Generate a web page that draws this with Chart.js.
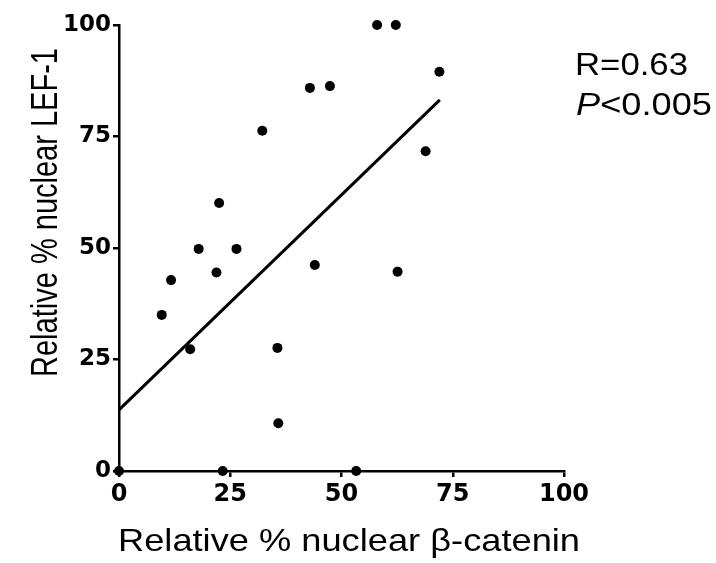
<!DOCTYPE html>
<html>
<head>
<meta charset="utf-8">
<script src="https://cdn.jsdelivr.net/npm/chart.js@4/dist/chart.umd.min.js"></script>
<style>
  html, body { margin: 0; padding: 0; background: #fff; }
  #wrap { width: 716px; height: 563px; }
</style>
</head>
<body>
<div id="wrap"><canvas id="c" width="716" height="563"></canvas></div>
<script>
// ---- data ----
const betaCatenin = [58.0, 62.2, 72.0, 47.4, 42.9, 32.2, 22.5, 68.9, 17.9, 26.4, 44.0, 11.7, 21.9, 9.6, 16.0, 35.6, 35.8, 0, 23.3, 53.3, 62.6];
const lef1        = [100, 100, 89.5, 86.3, 85.9, 76.3, 60.1, 71.7, 49.8, 49.8, 46.2, 42.8, 44.5, 35.0, 27.3, 27.6, 10.7, 0, 0, 0, 44.7];
const fitX = [0, 72.1];
const fitY = [13.7, 83.2];
const tickValues = [0, 25, 50, 75, 100];
const xTitle = 'Relative % nuclear β-catenin';
const yTitle = 'Relative % nuclear LEF-1';
const statR = 'R=0.63';
const statPLetter = 'P';
const statPRest = '<0.005';

const points = betaCatenin.map((x, i) => ({ x: x, y: lef1[i] }));
const fitLine = fitX.map((x, i) => ({ x: x, y: fitY[i] }));

function drawFit(ctx, text, x, y, width, font) {
  ctx.save();
  ctx.font = font;
  const w = ctx.measureText(text).width;
  ctx.translate(x, y);
  ctx.scale(width / w, 1);
  ctx.textAlign = 'left';
  ctx.textBaseline = 'alphabetic';
  ctx.fillText(text, 0, 0);
  ctx.restore();
}

const textPlugin = {
  id: 'texts',
  afterDraw(chart) {
    const ctx = chart.ctx;
    ctx.save();
    ctx.fillStyle = '#000';
    // x axis title
    drawFit(ctx, xTitle, 118, 551, 462, '32px "Liberation Sans", Arial, sans-serif');
    // y axis title (rotated, slightly widened horizontally like the reference)
    ctx.save();
    ctx.font = '29px "Liberation Sans", Arial, sans-serif';
    const yw = ctx.measureText(yTitle).width;
    ctx.translate(57, 377);
    ctx.scale(1.25, 1);
    ctx.rotate(-Math.PI / 2);
    ctx.scale(329 / yw, 1);
    ctx.textAlign = 'left';
    ctx.textBaseline = 'alphabetic';
    ctx.fillText(yTitle, 0, 0);
    ctx.restore();
    // statistics
    drawFit(ctx, statR, 575, 75, 113, '31px "Liberation Sans", Arial, sans-serif');
    ctx.save();
    const fItal = 'italic 31px "Liberation Sans", Arial, sans-serif';
    const fNorm = '31px "Liberation Sans", Arial, sans-serif';
    ctx.font = fItal; const wP = ctx.measureText(statPLetter).width;
    ctx.font = fNorm; const wR = ctx.measureText(statPRest).width;
    const s = 136 / (wP + wR);
    ctx.translate(576, 115);
    ctx.scale(s, 1);
    ctx.textBaseline = 'alphabetic';
    ctx.font = fItal; ctx.fillText(statPLetter, 0, 0);
    ctx.font = fNorm; ctx.fillText(statPRest, wP, 0);
    ctx.restore();
    ctx.restore();
  }
};

const axisCommon = {
  type: 'linear',
  min: 0,
  max: 100,
  grid: { display: true, drawOnChartArea: false, drawTicks: true, tickLength: 6, color: '#000', lineWidth: 2.5 },
  border: { display: true, color: '#000', width: 2.5 },
  title: { display: false }
};

new Chart(document.getElementById('c'), {
  type: 'scatter',
  data: {
    datasets: [
      {
        label: 'samples',
        data: points,
        backgroundColor: '#000',
        borderColor: '#000',
        pointRadius: 5,
        pointHoverRadius: 5,
        borderWidth: 0,
        clip: false
      },
      {
        type: 'line',
        label: 'fit',
        data: fitLine,
        borderColor: '#000',
        borderWidth: 3,
        pointRadius: 0,
        fill: false,
        tension: 0
      }
    ]
  },
  options: {
    responsive: false,
    animation: false,
    devicePixelRatio: 1,
    layout: { padding: { left: 0, top: 25, right: 152, bottom: 0 } },
    plugins: { legend: { display: false }, tooltip: { enabled: false } },
    scales: {
      x: Object.assign({}, axisCommon, {
        position: 'bottom',
        afterBuildTicks: (scale) => { scale.ticks = tickValues.map(v => ({ value: v })); },
        ticks: { color: '#000', padding: 3, maxRotation: 0, font: { family: 'DejaVu Sans', weight: 'bold', size: 24 } },
        afterFit: (scale) => { scale.height = 92; }
      }),
      y: Object.assign({}, axisCommon, {
        position: 'left',
        afterBuildTicks: (scale) => { scale.ticks = tickValues.map(v => ({ value: v })); },
        ticks: { color: '#000', padding: 2, font: { family: 'DejaVu Sans', weight: 'bold', size: 23 } },
        afterFit: (scale) => { scale.width = 119; }
      })
    }
  },
  plugins: [textPlugin]
});
</script>
</body>
</html>
